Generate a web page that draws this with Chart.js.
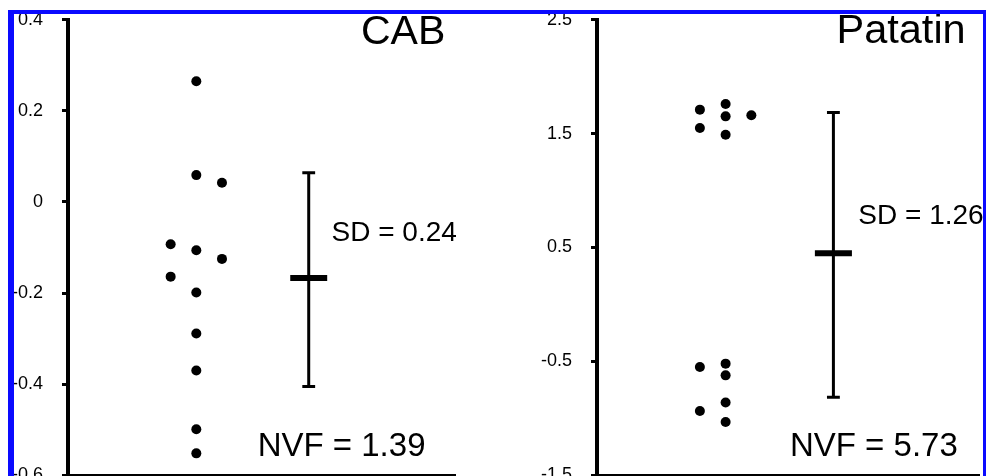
<!DOCTYPE html>
<html lang="en">
<head>
  <meta charset="UTF-8">
  <title>CAB and Patatin</title>
  <style>
    html, body {
      margin: 0;
      padding: 0;
      width: 987px;
      height: 476px;
      overflow: hidden;
      background: #fff;
    }

    /* canvases start a bit above the page so the plot area lines up */
    canvas {
      position: absolute;
      top: -10px;
    }

    #cabChart { left: 0; }
    #patatinChart { left: 529px; }

    /* blue frame drawn over both panels */
    .frame {
      position: absolute;
      left: 8px;
      top: 10px;
      width: 978px;
      height: 520px;
      box-sizing: border-box;
      border-left: 6px solid #0a0aff;
      border-top: 4px solid #0a0aff;
      border-right: 3px solid #0a0aff;
      pointer-events: none;
      z-index: 2;
    }
  </style>
  <script src="https://cdn.jsdelivr.net/npm/chart.js"></script>
</head>
<body>
  <canvas id="cabChart" width="460" height="515"></canvas>
  <canvas id="patatinChart" width="455" height="515"></canvas>
  <div class="frame"></div>

  <script>
    // CAB panel
    const cabX = [5, 5, 6, 4, 5, 6, 4, 5, 5, 5, 5, 5];
    const cabY = [0.265, 0.059, 0.042, -0.093, -0.106, -0.125, -0.164, -0.199, -0.289, -0.370, -0.499, -0.552];
    const cabBarX = 9.38;
    const cabMean = -0.167;
    const cabUpper = 0.064;
    const cabLower = -0.405;
    const cabTicks = [0.4, 0.2, 0, -0.2, -0.4, -0.6];
    const cabTickLabels = ['0.4', '0.2', '0', '-0.2', '-0.4', '-0.6'];

    // Patatin panel
    const patatinX = [4, 4, 4, 4, 5, 5, 5, 5, 5, 5, 5, 6];
    const patatinY = [1.711, 1.550, -0.550, -0.936, 1.761, 1.652, 1.491, -0.520, -0.623, -0.862, -1.032, 1.661];
    const patatinBarX = 9.19;
    const patatinMean = 0.45;
    const patatinUpper = 1.685;
    const patatinLower = -0.815;
    const patatinTicks = [2.5, 1.5, 0.5, -0.5, -1.5];
    const patatinTickLabels = ['2.5', '1.5', '0.5', '-0.5', '-1.5'];

    const FONT = "'Liberation Sans', Arial, sans-serif";

    // draws the panel texts at data positions
    const textPlugin = {
      id: 'panelTexts',
      afterDatasetsDraw(chart, args, opts) {
        const ctx = chart.ctx;
        const xs = chart.scales.x, ys = chart.scales.y;
        ctx.save();
        ctx.fillStyle = '#000';
        (opts.items || []).forEach(t => {
          ctx.font = t.size + 'px ' + FONT;
          ctx.textAlign = t.align || 'left';
          ctx.textBaseline = t.baseline || 'alphabetic';
          ctx.fillText(t.text, xs.getPixelForValue(t.x), ys.getPixelForValue(t.y));
        });
        ctx.restore();
      }
    };

    function makePanel(id, xs, ys, barX, mean, upper, lower, ticks, tickLabels, xMax, texts) {
      const points = xs.map((x, i) => ({ x: x, y: ys[i] }));
      const seg = (pts, w) => ({
        type: 'line',
        data: pts,
        borderColor: '#000',
        borderWidth: w,
        pointRadius: 0,
        showLine: true,
        fill: false
      });

      return new Chart(document.getElementById(id), {
        type: 'scatter',
        data: {
          datasets: [
            {
              data: points,
              backgroundColor: '#000',
              borderWidth: 0,
              pointRadius: 5
            },
            seg([{ x: barX, y: upper }, { x: barX, y: lower }], 3),
            seg([{ x: barX - 0.25, y: upper }, { x: barX + 0.25, y: upper }], 3),
            seg([{ x: barX - 0.25, y: lower }, { x: barX + 0.25, y: lower }], 3),
            seg([{ x: barX - 0.72, y: mean }, { x: barX + 0.72, y: mean }], 6)
          ]
        },
        options: {
          responsive: false,
          animation: false,
          layout: { padding: { top: 0, bottom: 0, left: 0, right: 0 } },
          plugins: {
            legend: { display: false },
            tooltip: { enabled: false },
            panelTexts: { items: texts }
          },
          scales: {
            x: {
              type: 'linear',
              min: 0,
              max: xMax,
              ticks: { display: false },
              grid: { display: false, drawTicks: false },
              border: { display: true, color: '#000', width: 3 }
            },
            y: {
              type: 'linear',
              min: ticks[ticks.length - 1],
              max: ticks[0],
              afterBuildTicks: scale => {
                scale.ticks = ticks.map(v => ({ value: v }));
              },
              afterFit: scale => { scale.width = 68; },
              ticks: {
                color: '#000',
                padding: 19,
                font: { family: FONT, size: 18 },
                callback: (v) => tickLabels[ticks.indexOf(v)]
              },
              grid: {
                drawOnChartArea: false,
                drawTicks: true,
                tickLength: 6,
                tickWidth: 3,
                tickColor: '#000'
              },
              border: { display: true, color: '#000', width: 4 }
            }
          }
        },
        plugins: [textPlugin]
      });
    }

    makePanel('cabChart', cabX, cabY, cabBarX, cabMean, cabUpper, cabLower,
      cabTicks, cabTickLabels, 15.08, [
        { text: 'CAB', x: 14.7, y: 0.347, size: 41, align: 'right' },
        { text: 'SD = 0.24', x: 10.27, y: -0.068, size: 28, baseline: 'middle' },
        { text: 'NVF = 1.39', x: 7.39, y: -0.558, size: 33 }
      ]);

    makePanel('patatinChart', patatinX, patatinY, patatinBarX, patatinMean, patatinUpper, patatinLower,
      patatinTicks, patatinTickLabels, 14.85, [
        { text: 'Patatin', x: 9.31, y: 2.298, size: 41.5 },
        { text: 'SD = 1.26', x: 10.16, y: 0.777, size: 28, baseline: 'middle' },
        { text: 'NVF = 5.73', x: 7.5, y: -1.333, size: 33 }
      ]);
  </script>
</body>
</html>
